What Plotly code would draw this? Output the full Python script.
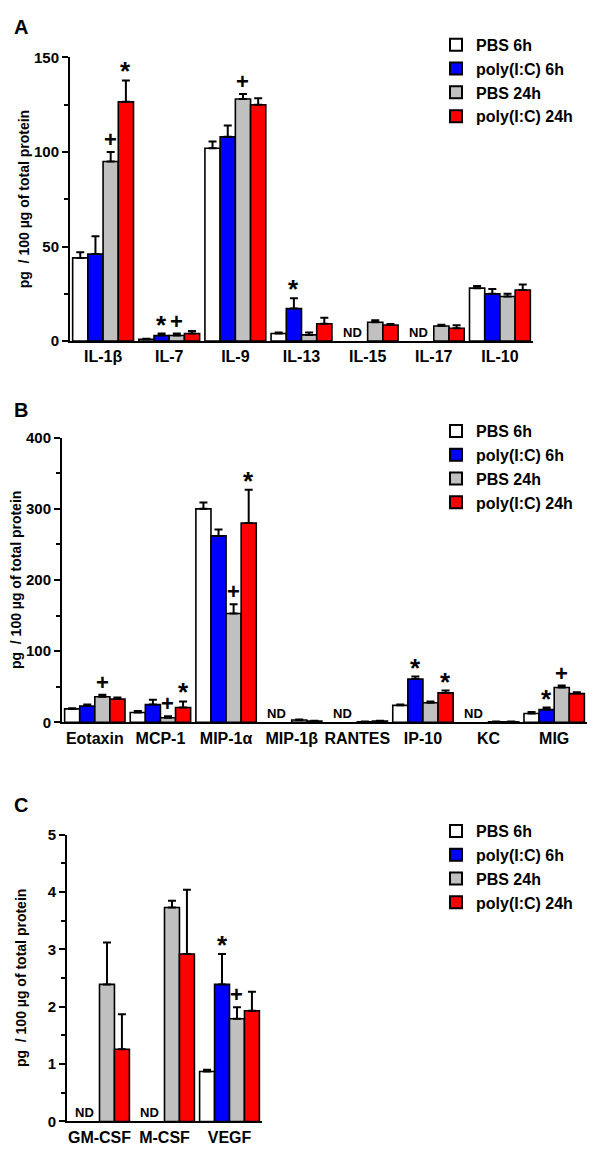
import plotly.graph_objects as go

series_names = ["PBS 6h", "poly(I:C) 6h", "PBS 24h", "poly(I:C) 24h"]
series_colors = ["#FFFFFF", "#0000FF", "#C0C0C0", "#FF0000"]

# ---------------- Panel A ----------------
A_categories = ["IL-1β", "IL-7", "IL-9", "IL-13", "IL-15", "IL-17", "IL-10"]
A_pbs6 = [44, 1, 102, 4, None, None, 28]
A_pbs6_err = [3, 0.3, 3.5, 0.5, None, None, 1.2]
A_poly6 = [46, 3, 108, 17.2, None, None, 25]
A_poly6_err = [9.5, 1, 6, 5.5, None, None, 2.6]
A_pbs24 = [95, 3, 128, 3.3, 10, 8, 23.6]
A_pbs24_err = [5, 1, 2.6, 1.2, 1, 0.6, 1.4]
A_poly24 = [126.5, 4, 125, 9.2, 8.5, 6.8, 27]
A_poly24_err = [11.3, 1.4, 3.4, 3.1, 0.6, 1.6, 2.9]
A_marks = [("IL-1β", 2, "+"), ("IL-1β", 3, "*"), ("IL-7", 1, "*"), ("IL-7", 2, "+"),
           ("IL-9", 2, "+"), ("IL-13", 1, "*")]
A_nd = ["IL-15", "IL-17"]

# ---------------- Panel B ----------------
B_categories = ["Eotaxin", "MCP-1", "MIP-1α", "MIP-1β", "RANTES", "IP-10", "KC", "MIG"]
B_pbs6 = [19, 14, 300, None, None, 24, None, 12.5]
B_pbs6_err = [1, 2, 9, None, None, 1, None, 2.3]
B_poly6 = [23, 25, 262, None, None, 61, None, 18]
B_poly6_err = [2, 7, 9, None, None, 3.5, None, 2.8]
B_pbs24 = [36, 6.5, 153, 3.5, 1, 27.7, 1, 49]
B_pbs24_err = [3, 2.3, 13, 0.5, 0.3, 1.8, 0.3, 2.7]
B_poly24 = [33, 21, 280, 2, 2, 41.5, 1, 40.5]
B_poly24_err = [2, 8.5, 47, 0.5, 0.5, 3.3, 0.3, 1.9]
B_marks = [("Eotaxin", 2, "+"), ("MCP-1", 2, "+"), ("MCP-1", 3, "*"), ("MIP-1α", 2, "+"),
           ("MIP-1α", 3, "*"), ("IP-10", 1, "*"), ("IP-10", 3, "*"), ("MIG", 1, "*"),
           ("MIG", 2, "+")]
B_nd = ["MIP-1β", "RANTES", "KC"]

# ---------------- Panel C ----------------
C_categories = ["GM-CSF", "M-CSF", "VEGF"]
C_pbs6 = [None, None, 0.87]
C_pbs6_err = [None, None, 0.03]
C_poly6 = [None, None, 2.39]
C_poly6_err = [None, None, 0.53]
C_pbs24 = [2.39, 3.73, 1.79]
C_pbs24_err = [0.73, 0.12, 0.2]
C_poly24 = [1.26, 2.92, 1.93]
C_poly24_err = [0.61, 1.12, 0.33]
C_marks = [("VEGF", 1, "*"), ("VEGF", 2, "+")]
C_nd = ["GM-CSF", "M-CSF"]

FONT = "Liberation Sans, Arial, sans-serif"
BARGAP = 0.08
BAR_W = (1 - BARGAP) / 4

panels = [
    dict(letter="A", cats=A_categories,
         vals=[A_pbs6, A_poly6, A_pbs24, A_poly24],
         errs=[A_pbs6_err, A_poly6_err, A_pbs24_err, A_poly24_err],
         marks=A_marks, nd=A_nd, yrange=[0, 150], dtick=50, minor=25,
         xdom=[70, 533], ydom=[337, 49], legend_top=19, letter_y=18, ax=""),
    dict(letter="B", cats=B_categories,
         vals=[B_pbs6, B_poly6, B_pbs24, B_poly24],
         errs=[B_pbs6_err, B_poly6_err, B_pbs24_err, B_poly24_err],
         marks=B_marks, nd=B_nd, yrange=[0, 400], dtick=100, minor=50,
         xdom=[62, 587], ydom=[724, 435], legend_top=411, letter_y=407, ax="2"),
    dict(letter="C", cats=C_categories,
         vals=[C_pbs6, C_poly6, C_pbs24, C_poly24],
         errs=[C_pbs6_err, C_poly6_err, C_pbs24_err, C_poly24_err],
         marks=C_marks, nd=C_nd, yrange=[0, 5], dtick=1, minor=0.5,
         xdom=[67, 262], ydom=[1129, 838], legend_top=817, letter_y=808, ax="3"),
]

# the page body keeps its default 8px margin: lay out in page pixels, shifted by it
OFF = 8
W, H = 600 - 2 * OFF, 1166 - 2 * OFF


def px(xp):
    return (xp - OFF) / W


def py(yp):
    return 1 - (yp - OFF) / H


fig = go.Figure()
annotations = []
layout_axes = {}

for pi, p in enumerate(panels):
    ax = p["ax"]
    xref = "x" + ax
    yref = "y" + ax
    legend_name = "legend" + ("" if pi == 0 else str(pi + 1))
    xs = list(range(len(p["cats"])))
    for si in range(4):
        fig.add_trace(go.Bar(
            x=xs, y=p["vals"][si], name=series_names[si],
            marker=dict(color=series_colors[si], line=dict(color="black", width=1.6)),
            error_y=dict(type="data", symmetric=False, array=p["errs"][si],
                         arrayminus=[0] * len(xs), color="black", thickness=2, width=4),
            xaxis=xref, yaxis=yref, legend=legend_name, showlegend=True,
        ))
    x0, x1 = p["xdom"]
    yb, yt = p["ydom"]
    xa = dict(domain=[px(x0), px(x1)], range=[-0.5, len(xs) - 0.5],
              tickmode="array", tickvals=xs, ticktext=p["cats"],
              showline=True, linewidth=2, linecolor="black", ticks="",
              showgrid=False, zeroline=False, anchor=yref,
              tickfont=dict(family=FONT, size=16, color="black", weight="bold"))
    ya = dict(domain=[py(yb), py(yt)], range=p["yrange"],
              dtick=p["dtick"], tick0=0, showline=True, linewidth=2, linecolor="black",
              ticks="outside", ticklen=6, tickwidth=2, tickcolor="black",
              minor=dict(dtick=p["minor"], ticks="outside", ticklen=4, tickwidth=2,
                         tickcolor="black"),
              showgrid=False, zeroline=False, anchor=xref,
              tickfont=dict(family=FONT, size=15, color="black", weight="bold"))
    layout_axes["xaxis" + ax] = xa
    layout_axes["yaxis" + ax] = ya
    layout_axes[legend_name] = dict(
        x=px(436), y=py(p["legend_top"]), xanchor="left", yanchor="top",
        bgcolor="rgba(0,0,0,0)", tracegroupgap=0, itemsizing="constant",
        font=dict(family=FONT, size=16, color="black", weight="bold"))
    annotations.append(dict(text="<b>%s</b>" % p["letter"], x=px(12), y=py(p["letter_y"]),
                            xref="paper", yref="paper", xanchor="left", yanchor="middle",
                            showarrow=False, font=dict(family=FONT, size=20, color="black")))
    annotations.append(dict(text="<b>pg\u00a0\u00a0/ 100 µg of total protein</b>", textangle=-90,
                            x=px(x0 - 46), y=py((yb + yt) / 2),
                            xref="paper", yref="paper", xanchor="center", yanchor="middle",
                            showarrow=False, font=dict(family=FONT, size=14, color="black")))
    for cat, si, sym in p["marks"]:
        ci = p["cats"].index(cat)
        top = p["vals"][si][ci] + p["errs"][si][ci]
        star = sym == "*"
        annotations.append(dict(text="<b>%s</b>" % sym, x=ci + (si - 1.5) * BAR_W, y=top,
                                xref=xref, yref=yref, xanchor="center", yanchor="bottom",
                                showarrow=False, yshift=(-8 if star else -2),
                                font=dict(family=FONT, size=26 if star else 22,
                                          color="black")))
    for cat in p["nd"]:
        ci = p["cats"].index(cat)
        annotations.append(dict(text="<b>ND</b>", x=ci - BAR_W, y=0,
                                xref=xref, yref=yref, xanchor="center", yanchor="bottom",
                                showarrow=False, yshift=-1,
                                font=dict(family=FONT, size=13, color="black")))

fig.update_layout(
    width=W, height=H, margin=dict(l=0, r=0, t=0, b=0),
    paper_bgcolor="white", plot_bgcolor="white",
    barmode="group", bargap=BARGAP, bargroupgap=0,
    annotations=annotations, **layout_axes,
)

fig.write_html("out.html")
